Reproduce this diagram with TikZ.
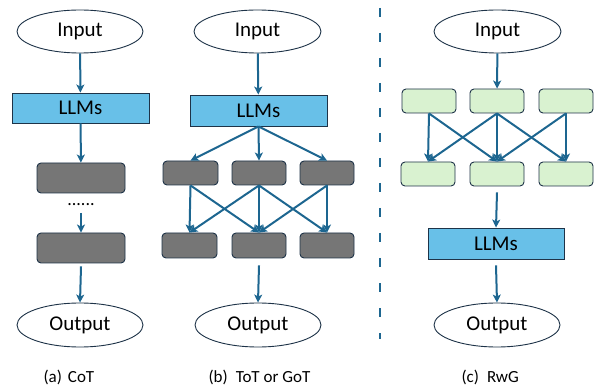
\documentclass[tikz,border=0pt]{standalone}
\usepackage{fontspec}
\setmainfont{Carlito}
\usetikzlibrary{shapes.geometric,arrows.meta}
\definecolor{arr}{HTML}{1D6690}
\definecolor{edge}{HTML}{1E3348}
\definecolor{llmfill}{HTML}{68C0E8}
\definecolor{grayfill}{HTML}{767676}
\definecolor{greenfill}{HTML}{D9F2D0}
\tikzset{
  ell/.style={ellipse, draw=edge, line width=0.9pt, fill=white, inner sep=0pt, font=\fontsize{21}{21}\selectfont},
  llm/.style={rectangle, draw=edge, line width=0.9pt, fill=llmfill, inner sep=0pt, font=\fontsize{21}{21}\selectfont},
  gbox/.style={rectangle, rounded corners=4pt, draw=edge, line width=0.9pt, fill=grayfill, inner sep=0pt},
  grbox/.style={rectangle, rounded corners=4pt, draw=edge, line width=0.9pt, fill=greenfill, inner sep=0pt},
  conn/.style={draw=arr, line width=2pt, -{Stealth[length=8pt,width=8pt,inset=2pt]}},
  captxt/.style={font=\fontsize{17}{17}\selectfont, anchor=west},
}
\begin{document}
\begin{tikzpicture}[x=1pt,y=-1pt]
\useasboundingbox (0,0) rectangle (594,387);
% (a) CoT
\node[ell, minimum width=126pt, minimum height=43pt] (inA) at (80,31.5) {Input};
\node[llm, minimum width=137pt, minimum height=30pt] (llmA) at (80.5,108) {LLMs};
\node[gbox, minimum width=88pt, minimum height=30pt] (gA1) at (81,178) {};
\node[inner sep=0pt, font=\fontsize{18}{18}\selectfont] (dotsA) at (81,205) {......};
\coordinate (dA) at (81,213);
\node[gbox, minimum width=88pt, minimum height=30pt] (gA2) at (81,248) {};
\node[ell, minimum width=126pt, minimum height=44pt] (outA) at (80,325) {Output};
\draw[conn] (inA) -- (llmA);
\draw[conn] (llmA) -- (gA1);
\draw[conn] (dA) -- (gA2);
\draw[conn] (gA2.south) ++(0,3) -- (outA.north);
% (b) ToT or GoT
\node[ell, minimum width=127pt, minimum height=43pt] (inB) at (257.5,31.5) {Input};
\node[llm, minimum width=137pt, minimum height=31pt] (llmB) at (258.5,110.5) {LLMs};
\node[gbox, minimum width=55pt, minimum height=24pt] (gB1) at (190.5,173) {};
\node[gbox, minimum width=54pt, minimum height=24pt] (gB2) at (259,173) {};
\node[gbox, minimum width=54pt, minimum height=24pt] (gB3) at (327,173) {};
\node[gbox, minimum width=55pt, minimum height=25pt] (gB4) at (189.5,245.5) {};
\node[gbox, minimum width=54pt, minimum height=25pt] (gB5) at (259,245.5) {};
\node[gbox, minimum width=54pt, minimum height=25pt] (gB6) at (327,245.5) {};
\node[ell, minimum width=126pt, minimum height=44pt] (outB) at (258,325) {Output};
\draw[conn] (inB) -- (llmB);
\draw[conn] (llmB.south) -- (gB1.north);
\draw[conn] (llmB.south) -- (gB2.north);
\draw[conn] (llmB.south) -- (gB3.north);
\draw[conn] (gB1.south) -- (gB4.north);
\draw[conn] (gB1.south) -- (gB5.north);
\draw[conn] (gB2.south) -- (gB4.north);
\draw[conn] (gB2.south) -- (gB5.north);
\draw[conn] (gB2.south) -- (gB6.north);
\draw[conn] (gB3.south) -- (gB5.north);
\draw[conn] (gB3.south) -- (gB6.north);
\draw[conn] (gB5.south) ++(0,7) -- (outB.north);
% divider
\coordinate (dv1) at (380,8);
\coordinate (dv2) at (380,339);
\draw[draw=arr, line width=1.8pt, dash pattern=on 9pt off 16pt] (dv1) -- (dv2);
% (c) RwG
\node[ell, minimum width=127pt, minimum height=43pt] (inC) at (497.5,31.5) {Input};
\node[grbox, minimum width=54pt, minimum height=24pt] (gC1) at (429,101) {};
\node[grbox, minimum width=54pt, minimum height=24pt] (gC2) at (497,101) {};
\node[grbox, minimum width=54pt, minimum height=24pt] (gC3) at (566,101) {};
\node[grbox, minimum width=54pt, minimum height=24pt] (gC4) at (428,174) {};
\node[grbox, minimum width=54pt, minimum height=24pt] (gC5) at (497,174) {};
\node[grbox, minimum width=54pt, minimum height=24pt] (gC6) at (566,174) {};
\node[llm, minimum width=136pt, minimum height=31pt] (llmC) at (496,243.5) {LLMs};
\node[ell, minimum width=126pt, minimum height=44pt] (outC) at (497,325) {Output};
\draw[conn] (inC) -- (gC2);
\draw[conn] (gC1.south) -- (gC4.north);
\draw[conn] (gC1.south) -- (gC5.north);
\draw[conn] (gC2.south) -- (gC4.north);
\draw[conn] (gC2.south) -- (gC5.north);
\draw[conn] (gC2.south) -- (gC6.north);
\draw[conn] (gC3.south) -- (gC5.north);
\draw[conn] (gC3.south) -- (gC6.north);
\draw[conn] (gC5.south) ++(0,6) -- (llmC.north);
\draw[conn] (llmC.south) ++(0,6) -- (outC.north);
% captions
\node[captxt] (capA) at (40,377) {(a)\hspace{6pt}CoT};
\node[captxt] (capB) at (205,377) {(b)\hspace{8pt}ToT or GoT};
\node[captxt] (capC) at (458,377) {(c)\hspace{8pt}RwG};
\end{tikzpicture}
\end{document}
